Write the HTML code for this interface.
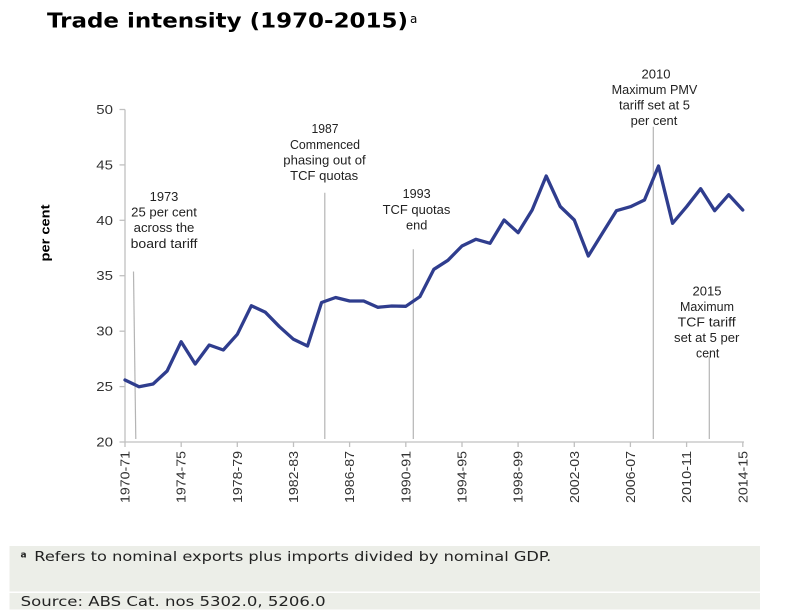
<!DOCTYPE html>
<html>
<head>
<meta charset="utf-8">
<style>
  html, body { margin: 0; padding: 0; background: #ffffff; }
  body { width: 800px; height: 613px; overflow: hidden; }
  svg { display: block; }
  .ann { font-family: "Liberation Sans", Arial, sans-serif; font-size: 12.5px; fill: #222; }
  .tick { font-family: "Liberation Sans", Arial, sans-serif; font-size: 12.5px; fill: #333; }
  .ytick { font-family: "Liberation Sans", Arial, sans-serif; font-size: 13px; fill: #333; }
  .foot { font-family: "DejaVu Sans", Verdana, sans-serif; font-size: 13px; fill: #222; }
</style>
</head>
<body>
<svg width="800" height="613" viewBox="0 0 800 613" xmlns="http://www.w3.org/2000/svg">
  <rect x="0" y="0" width="800" height="613" fill="#ffffff"/>

  <!-- Title -->
  <text x="47" y="27.3" font-family="DejaVu Sans, Verdana, sans-serif" font-weight="bold" font-size="20" fill="#000" textLength="361" lengthAdjust="spacingAndGlyphs">Trade intensity (1970-2015)</text>
  <text x="410" y="23" font-family="DejaVu Sans, Verdana, sans-serif" font-size="12" fill="#000">a</text>

  <!-- Y axis label -->
  <text transform="translate(49.5,233) rotate(-90)" text-anchor="middle" font-family="Liberation Sans, Arial, sans-serif" font-weight="bold" font-size="13" fill="#000" textLength="57" lengthAdjust="spacingAndGlyphs">per cent</text>

  <!-- Axes -->
  <g stroke="#c0c0c0" stroke-width="1.3" fill="none">
    <line x1="125" y1="109.5" x2="125" y2="442.5"/>
    <line x1="124.5" y1="442" x2="744" y2="442"/>
    <!-- y ticks -->
    <line x1="119.5" y1="109.5" x2="125" y2="109.5"/>
    <line x1="119.5" y1="164.9" x2="125" y2="164.9"/>
    <line x1="119.5" y1="220.3" x2="125" y2="220.3"/>
    <line x1="119.5" y1="275.7" x2="125" y2="275.7"/>
    <line x1="119.5" y1="331.2" x2="125" y2="331.2"/>
    <line x1="119.5" y1="386.6" x2="125" y2="386.6"/>
    <line x1="119.5" y1="442" x2="125" y2="442"/>
    <!-- x ticks -->
    <line x1="125" y1="442" x2="125" y2="447"/>
    <line x1="181.2" y1="442" x2="181.2" y2="447"/>
    <line x1="237.3" y1="442" x2="237.3" y2="447"/>
    <line x1="293.5" y1="442" x2="293.5" y2="447"/>
    <line x1="349.6" y1="442" x2="349.6" y2="447"/>
    <line x1="405.8" y1="442" x2="405.8" y2="447"/>
    <line x1="462" y1="442" x2="462" y2="447"/>
    <line x1="518.1" y1="442" x2="518.1" y2="447"/>
    <line x1="574.3" y1="442" x2="574.3" y2="447"/>
    <line x1="630.4" y1="442" x2="630.4" y2="447"/>
    <line x1="686.6" y1="442" x2="686.6" y2="447"/>
    <line x1="742.8" y1="442" x2="742.8" y2="447"/>
  </g>

  <!-- Y tick labels -->
  <g class="ytick" text-anchor="end">
    <text x="113" y="114" textLength="16.7" lengthAdjust="spacingAndGlyphs">50</text>
    <text x="113" y="169.4" textLength="16.7" lengthAdjust="spacingAndGlyphs">45</text>
    <text x="113" y="224.8" textLength="16.7" lengthAdjust="spacingAndGlyphs">40</text>
    <text x="113" y="280.2" textLength="16.7" lengthAdjust="spacingAndGlyphs">35</text>
    <text x="113" y="335.7" textLength="16.7" lengthAdjust="spacingAndGlyphs">30</text>
    <text x="113" y="391.1" textLength="16.7" lengthAdjust="spacingAndGlyphs">25</text>
    <text x="113" y="446.5" textLength="16.7" lengthAdjust="spacingAndGlyphs">20</text>
  </g>

  <!-- X tick labels (rotated) -->
  <g class="tick" text-anchor="end">
    <text transform="translate(129.5,451) rotate(-90)" textLength="52" lengthAdjust="spacingAndGlyphs">1970-71</text>
    <text transform="translate(185.7,451) rotate(-90)" textLength="52" lengthAdjust="spacingAndGlyphs">1974-75</text>
    <text transform="translate(241.8,451) rotate(-90)" textLength="52" lengthAdjust="spacingAndGlyphs">1978-79</text>
    <text transform="translate(298,451) rotate(-90)" textLength="52" lengthAdjust="spacingAndGlyphs">1982-83</text>
    <text transform="translate(354.1,451) rotate(-90)" textLength="52" lengthAdjust="spacingAndGlyphs">1986-87</text>
    <text transform="translate(410.3,451) rotate(-90)" textLength="52" lengthAdjust="spacingAndGlyphs">1990-91</text>
    <text transform="translate(466.5,451) rotate(-90)" textLength="52" lengthAdjust="spacingAndGlyphs">1994-95</text>
    <text transform="translate(522.6,451) rotate(-90)" textLength="52" lengthAdjust="spacingAndGlyphs">1998-99</text>
    <text transform="translate(578.8,451) rotate(-90)" textLength="52" lengthAdjust="spacingAndGlyphs">2002-03</text>
    <text transform="translate(634.9,451) rotate(-90)" textLength="52" lengthAdjust="spacingAndGlyphs">2006-07</text>
    <text transform="translate(691.1,451) rotate(-90)" textLength="52" lengthAdjust="spacingAndGlyphs">2010-11</text>
    <text transform="translate(747.3,451) rotate(-90)" textLength="52" lengthAdjust="spacingAndGlyphs">2014-15</text>
  </g>

  <!-- Annotation lines -->
  <g stroke="#b4b4b4" stroke-width="1.2" fill="none">
    <line x1="133.5" y1="271.5" x2="135.8" y2="439"/>
    <line x1="324.8" y1="192.7" x2="324.8" y2="439"/>
    <line x1="413.3" y1="249.3" x2="413.3" y2="439"/>
    <line x1="653.3" y1="126.7" x2="653.3" y2="439"/>
    <line x1="709.3" y1="356.7" x2="709.3" y2="439"/>
  </g>

  <!-- Annotation texts -->
  <g class="ann" text-anchor="middle">
    <text x="164" y="201" textLength="28.7" lengthAdjust="spacingAndGlyphs">1973</text>
    <text x="164" y="216.6" textLength="65.7" lengthAdjust="spacingAndGlyphs">25 per cent</text>
    <text x="164" y="232.2" textLength="60.7" lengthAdjust="spacingAndGlyphs">across the</text>
    <text x="164" y="247.8" textLength="66.7" lengthAdjust="spacingAndGlyphs">board  tariff</text>

    <text x="325" y="133.2" textLength="27" lengthAdjust="spacingAndGlyphs">1987</text>
    <text x="325" y="148.8" textLength="70" lengthAdjust="spacingAndGlyphs">Commenced</text>
    <text x="324.5" y="164.4" textLength="82.4" lengthAdjust="spacingAndGlyphs">phasing out of</text>
    <text x="324.2" y="180" textLength="68" lengthAdjust="spacingAndGlyphs">TCF  quotas</text>

    <text x="416.7" y="198.2" textLength="28" lengthAdjust="spacingAndGlyphs">1993</text>
    <text x="416.5" y="213.8" textLength="67.7" lengthAdjust="spacingAndGlyphs">TCF  quotas</text>
    <text x="416.7" y="229.4" textLength="21.3" lengthAdjust="spacingAndGlyphs">end</text>

    <text x="656" y="78.3" textLength="29" lengthAdjust="spacingAndGlyphs">2010</text>
    <text x="654.5" y="93.9" textLength="85.7" lengthAdjust="spacingAndGlyphs">Maximum  PMV</text>
    <text x="654.5" y="109.5" textLength="71" lengthAdjust="spacingAndGlyphs">tariff set at 5</text>
    <text x="654" y="125.1" textLength="46.7" lengthAdjust="spacingAndGlyphs">per cent</text>

    <text x="707" y="295.3" textLength="29" lengthAdjust="spacingAndGlyphs">2015</text>
    <text x="707" y="310.9" textLength="54" lengthAdjust="spacingAndGlyphs">Maximum</text>
    <text x="706.7" y="326.5" textLength="58" lengthAdjust="spacingAndGlyphs">TCF  tariff</text>
    <text x="706.7" y="342.1" textLength="65.3" lengthAdjust="spacingAndGlyphs">set at 5 per</text>
    <text x="707.7" y="357.7" textLength="23.3" lengthAdjust="spacingAndGlyphs">cent</text>
  </g>

  <!-- Data series -->
  <polyline fill="none" stroke="#2f3d8e" stroke-width="3.3" stroke-linejoin="round" stroke-linecap="round"
    points="125,380 139.04,386.7 153.08,384 167.12,371 181.16,341.7 195.2,364 209.24,345 223.28,350 237.32,334.3 251.36,305.7 265.4,312.3 279.44,326.7 293.48,339.3 307.52,346 321.56,302.5 335.6,297.5 349.64,301 363.68,301 377.72,307.3 391.76,306 405.8,306.3 419.84,296.7 433.88,269.3 447.92,260.3 461.96,246 476,239.3 490.04,243.3 504.08,220 518.12,232.7 532.16,210 546.2,176 560.24,206.5 574.28,220 588.32,256 602.36,233.3 616.4,210.7 630.44,206.7 644.48,200 658.52,166 672.56,223.3 686.6,206.7 700.64,188.7 714.68,210.7 728.72,194.7 742.76,210"/>

  <!-- Footer -->
  <rect x="9.5" y="546" width="750.5" height="45.5" fill="#eceee8"/>
  <rect x="9.5" y="593" width="750.5" height="16.5" fill="#eceee8"/>
  <text x="20.5" y="557.5" font-family="DejaVu Sans, Verdana, sans-serif" font-weight="bold" font-size="9" fill="#222">a</text>
  <text class="foot" x="34.3" y="561" textLength="517" lengthAdjust="spacingAndGlyphs">Refers  to nominal  exports plus imports  divided by nominal  GDP.</text>
  <text class="foot" x="20.7" y="606" textLength="305" lengthAdjust="spacingAndGlyphs">Source: ABS  Cat. nos 5302.0,  5206.0</text>
</svg>
</body>
</html>
